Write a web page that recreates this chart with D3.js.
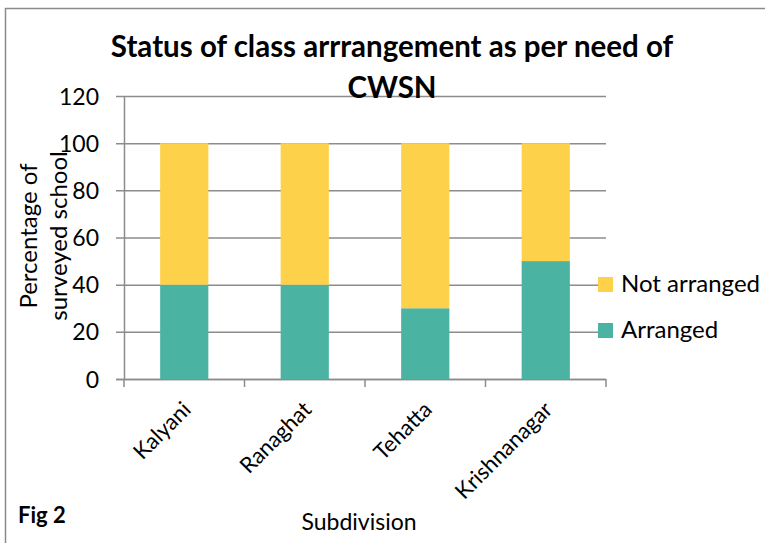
<!DOCTYPE html>
<html><head><meta charset="utf-8">
<script src="https://cdn.jsdelivr.net/npm/d3@7"></script>
<style>body{margin:0;background:#fff}svg{display:block}text{font-family:Lato,"Open Sans",sans-serif;fill:#000}</style>
</head><body><svg id="c" width="765" height="543"></svg>
<script>
const categories = ["Kalyani","Ranaghat","Tehatta","Krishnanagar"];
const arranged = [40,40,30,50];
const notArranged = [60,60,70,50];
const seriesNames = ["Arranged","Not arranged"];
const colors = ["#4BB3A2","#FED14A"];
const yTicks = [0,20,40,60,80,100,120];
const title = ["Status of class arrrangement as per need of","CWSN"];
const yTitle = ["Percentage of","surveyed school"];
const xTitle = "Subdivision";
const figLabel = "Fig 2";

const svg = d3.select("#c");
svg.append("path").attr("d","M5.5,543 L5.5,8.5 L765,8.5").attr("fill","none").attr("stroke","#8a8a8a").attr("stroke-width",1.5);

const x0=124, x1=606, yTop=96, yBot=379;
const x = d3.scaleBand().domain(categories).range([x0,x1]).paddingInner(0.6).paddingOuter(0.3);
const y = d3.scaleLinear().domain([0,120]).range([yBot,yTop]);

svg.append("g").selectAll("line").data(yTicks).join("line")
  .attr("x1",x0-8).attr("x2",x1).attr("y1",d=>y(d)+0.5).attr("y2",d=>y(d)+0.5)
  .attr("stroke","#8c8c8c").attr("stroke-width",1.5);

const ya = svg.append("g").attr("transform",`translate(${x0},0)`).call(d3.axisLeft(y).tickValues(yTicks).tickSize(0).tickPadding(25));
ya.select(".domain").attr("stroke","#8c8c8c").attr("stroke-width",1.5);
ya.selectAll("text").style("font-size","23px").attr("dy","0.35em").style("font-family","Lato,sans-serif");

const xa = svg.append("g").attr("transform",`translate(0,${yBot})`);
xa.append("line").attr("x1",x0-8).attr("x2",x1).attr("y1",0.5).attr("y2",0.5).attr("stroke","#8c8c8c").attr("stroke-width",1.5);
const tickPos = categories.map(c=>x(c)-x.step()*x.paddingInner()/2);
tickPos.push(x1);
xa.selectAll(".tk").data(tickPos).join("line").attr("class","tk")
  .attr("x1",d=>d).attr("x2",d=>d).attr("y1",0).attr("y2",8).attr("stroke","#8c8c8c").attr("stroke-width",1.5);

const stackData = categories.map((c,i)=>({cat:c, Arranged:arranged[i], "Not arranged":notArranged[i]}));
const stacked = d3.stack().keys(seriesNames)(stackData);
svg.append("g").selectAll("g").data(stacked).join("g").attr("fill",(d,i)=>colors[i])
  .selectAll("rect").data(d=>d).join("rect")
  .attr("x",d=>x(d.data.cat)).attr("width",x.bandwidth())
  .attr("y",d=>y(d[1])).attr("height",d=>y(d[0])-y(d[1]));

svg.append("g").selectAll("text").data(categories).join("text")
  .attr("transform",d=>`translate(${x(d)+x.bandwidth()/2+8},${yBot+32}) rotate(-45)`)
  .attr("text-anchor","end").style("font-size","22px").text(d=>d);

svg.append("g").selectAll("text").data(title).join("text")
  .attr("x",392).attr("y",(d,i)=>57+i*41).attr("text-anchor","middle")
  .style("font-size","29.5px").style("font-weight","bold").text(d=>d);

svg.append("g").selectAll("text").data(yTitle).join("text")
  .attr("transform",(d,i)=>`translate(${37+i*30},236) rotate(-90)`)
  .attr("text-anchor","middle").style("font-size","24px").text(d=>d);

svg.append("text").attr("x",359).attr("y",530).attr("text-anchor","middle").style("font-size","23px").text(xTitle);
svg.append("text").attr("x",18).attr("y",523).style("font-size","22px").style("font-weight","bold").text(figLabel);

const legend = [{name:"Not arranged",color:colors[1]},{name:"Arranged",color:colors[0]}];
const lg = svg.append("g").selectAll("g").data(legend).join("g").attr("transform",(d,i)=>`translate(598,${277+i*46})`);
lg.append("rect").attr("width",15).attr("height",15).attr("fill",d=>d.color);
lg.append("text").attr("x",23).attr("y",15).style("font-size","24px").text(d=>d.name);
</script></body></html>
